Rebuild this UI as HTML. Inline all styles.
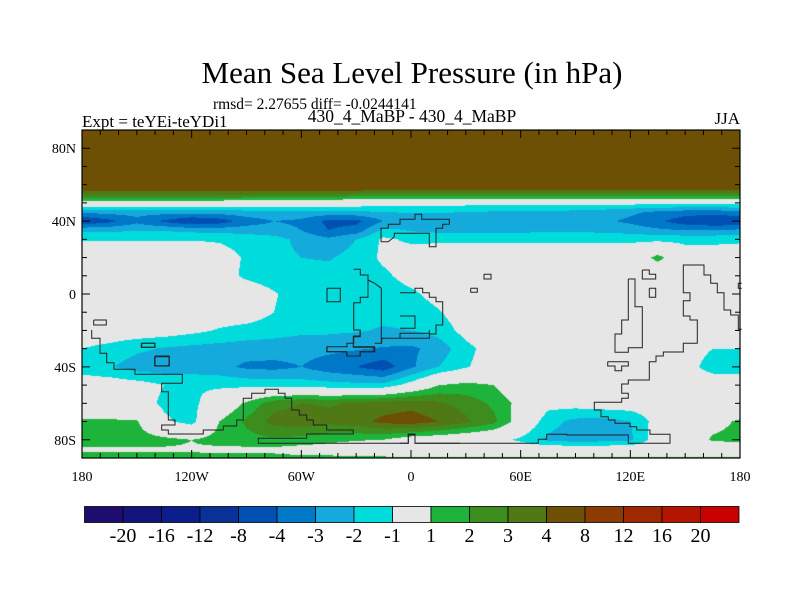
<!DOCTYPE html>
<html><head><meta charset="utf-8">
<style>
html,body{margin:0;padding:0;background:#fff;}
#wrap{position:relative;width:800px;height:600px;overflow:hidden;font-family:"Liberation Serif",serif;color:#000;}
.t{position:absolute;white-space:nowrap;}
</style></head>
<body>
<div id="wrap">
<div class="t" style="left:0;width:824px;text-align:center;top:55px;font-size:31px;">Mean Sea Level Pressure (in hPa)</div>
<div class="t" style="left:213px;top:96px;font-size:15.5px;">rmsd= 2.27655 diff= -0.0244141</div>
<div class="t" style="left:82px;top:112px;font-size:17px;">Expt = teYEi-teYDi1</div>
<div class="t" style="left:0;width:824px;text-align:center;top:106px;font-size:17.5px;">430_4_MaBP - 430_4_MaBP</div>
<div class="t" style="right:60px;top:109px;font-size:17px;">JJA</div>
<canvas id="field" width="658" height="328" style="position:absolute;left:82px;top:130px;"></canvas>
<svg id="ov" width="800" height="600" style="position:absolute;left:0;top:0;"></svg>
</div>
<script>
const lons=[-180,-165,-150,-135,-120,-105,-90,-75,-60,-45,-30,-15,0,15,30,45,60,75,90,105,120,135,150,165,180];
const lats=[90,60,55,50,45,40,35,30,20,10,0,-10,-20,-30,-40,-50,-60,-70,-80,-85,-90];
const r90=[6,6,6,6,6,6,6,6,6,6,6,6,6,6,6,6,6,6,6,6,6,6,6,6,6];
const r60=[6,6,6,6,6,6,6,6,6,6,6,6,6,6,6,6,6,6,6,6,6,6,6,6,6];
const r55=[3.3,3.3,3.3,3.3,3.3,3.3,3.3,3.2,3.1,3.0,2.9,2.8,2.8,2.8,2.8,2.8,2.8,2.8,2.8,2.8,2.8,2.8,2.8,2.8,2.8];
const r50=[0.2,0.2,0.2,0.2,0.2,0.2,0.1,0,0,-0.1,-0.2,-0.4,-0.6,-0.6,-0.6,-0.6,-0.6,-0.6,-0.6,-0.6,-0.6,-0.6,-0.6,-0.6,-0.6];
const r45=[-2.8,-2.6,-2.6,-2.6,-2.6,-2.5,-2.4,-2.3,-2.3,-2.3,-2.2,-2.0,-1.9,-1.9,-2.0,-2.1,-2.1,-2.2,-2.3,-2.5,-2.8,-3.2,-3.5,-3.6,-3.2];
const r40=[-5,-4.3,-3.3,-4.2,-5,-4.6,-3.5,-3,-3.2,-4.3,-4.3,-3,-2.6,-2.7,-2.8,-2.8,-2.7,-2.6,-2.6,-2.8,-3.2,-3.8,-4.6,-5,-5];
const r35=[-2.2,-2.2,-2.1,-2.1,-2.3,-2.4,-2.5,-2.6,-3,-4,-3.6,-1.7,-2.1,-2.3,-2.4,-2.4,-2.3,-2.2,-2.2,-2.3,-2.5,-2.8,-3,-3,-2.8];
const r30=[-1.05,-1.05,-1.05,-1.05,-1.05,-1.1,-1.3,-1.6,-2.3,-2.8,-2.0,-0.8,-1.2,-1.2,-1.2,-1.2,-1.2,-1.2,-1.2,-1.2,-1.2,-1.3,-1.3,-1.3,-1.2];
const r20=[-0.3,-0.3,-0.3,-0.3,-0.3,-0.6,-1.1,-1.7,-2.0,-2.1,-1.6,-0.8,-0.4,-0.3,-0.3,-0.3,-0.3,-0.3,-0.3,-0.3,-0.3,1.4,-0.3,-0.3,-0.3];
const r10=[-0.3,-0.3,-0.3,-0.3,-0.3,-0.5,-1.2,-1.5,-1.6,-1.6,-1.5,-1.2,-0.6,-0.3,-0.3,-0.3,-0.3,-0.3,-0.3,-0.3,-0.3,-0.3,-0.3,-0.3,-0.3];
const r0=[-0.3,-0.3,-0.3,-0.3,-0.3,-0.3,-0.3,-0.9,-1.5,-1.6,-1.6,-1.5,-1.2,-0.6,-0.3,-0.3,-0.3,-0.3,-0.3,-0.3,-0.3,-0.3,-0.3,-0.3,-0.3];
const rm10=[-0.3,-0.3,-0.3,-0.3,-0.3,-0.3,-0.3,-1.0,-1.6,-1.7,-1.7,-1.7,-1.6,-1.1,-0.3,-0.3,-0.3,-0.3,-0.3,-0.3,-0.3,-0.3,-0.3,-0.3,-0.3];
const rm20=[-0.3,-0.3,-0.3,-0.4,-0.7,-1.1,-1.4,-1.6,-1.8,-1.8,-1.9,-2.1,-2.0,-1.6,-0.6,-0.3,-0.3,-0.3,-0.3,-0.3,-0.3,-0.3,-0.3,-0.3,-0.3];
const rm30=[-1.0,-1.3,-1.8,-2.1,-2.3,-2.4,-2.5,-2.5,-2.6,-2.7,-2.9,-3.1,-3.2,-2.6,-1.3,-0.5,-0.3,-0.3,-0.3,-0.3,-0.3,-0.3,-0.5,-1.0,-1.0];
const rm40=[-1.5,-1.9,-2.5,-2.6,-2.6,-2.7,-3.2,-3.3,-3.0,-3.6,-4.0,-4.6,-3.2,-2.0,-1.1,-0.4,-0.3,-0.3,-0.3,-0.3,-0.3,-0.3,-0.6,-1.4,-1.5];
const rm50=[-0.3,-0.3,-0.5,-1.0,-1.1,-1.2,-1.3,-1.4,-1.5,-1.6,-1.7,-1.7,-0.5,1.0,1.3,1.0,-0.2,-0.3,-0.3,-0.3,-0.3,-0.3,-0.3,-0.3,-0.3];
const rm60=[-0.3,-0.3,-0.5,-1.2,-1.3,-0.2,1.2,2.6,3.0,2.9,3.1,3.4,3.6,3.2,2.6,1.8,0.6,-0.6,-0.5,-0.3,-0.3,-0.3,-0.3,-0.3,-0.3];
const rm70=[1.2,1.2,1.1,-0.8,-1.4,1.0,2.2,3.4,3.6,3.3,3.6,4.3,4.6,4.0,3.2,2.3,0.3,-1.6,-2.3,-2.4,-2.0,-0.5,-0.3,0.5,1.2];
const rm80=[1.5,1.5,1.5,1.3,1.0,1.4,1.6,1.8,1.6,1.3,1.1,1.0,0.2,0,-0.3,-0.6,-1.2,-2.2,-2.5,-2.4,-2.2,-0.3,-0.2,1.2,1.4];
const rm85=[0.9,0.9,0.9,0.9,0.9,0.8,0.8,0.8,0.6,0.5,0.3,0,-0.2,-0.2,-0.2,-0.2,-0.2,-0.2,-0.2,-0.2,-0.2,-0.2,-0.2,-0.2,-0.2];
const rm90=[1.2,1.2,1.2,1.2,1.2,1.2,1.2,1.2,1.2,1.2,1.2,1.2,1.2,1.2,1.2,1.2,1.2,1.2,1.2,1.2,1.2,1.2,1.2,1.2,1.2];
const grid=[r90,r60,r55,r50,r45,r40,r35,r30,r20,r10,r0,rm10,rm20,rm30,rm40,rm50,rm60,rm70,rm80,rm85,rm90];
const levels=[-20,-16,-12,-8,-4,-3,-2,-1,1,2,3,4,8,12,16,20];
const levelLabels=["-20","-16","-12","-8","-4","-3","-2","-1","1","2","3","4","8","12","16","20"];
const colors=["#1e0c6e","#14147d","#0c1e8c","#0a3296","#0050b4","#0078c8","#14aadc","#00dcdc","#e6e6e6","#1eb43c","#3c8c1e","#507814","#6e5005","#8c3c00","#a02800","#b41400","#c80000"];

const X0=82,X1=740,Y0=130,Y1=458;
function xOf(lon){return X0+(lon+180)/360*(X1-X0);}
function yOf(lat){return Y0+(90-lat)/180*(Y1-Y0);}
function lonOf(x){return -180+(x-X0)/(X1-X0)*360;}
function latOf(y){return 90-(y-Y0)/(Y1-Y0)*180;}
function colorIdx(v){let i=0;while(i<levels.length&&v>=levels[i])i++;return i;}
function valAt(lon,lat){
  let j=0;while(j<lons.length-2&&lon>lons[j+1])j++;
  let i=0;while(i<lats.length-2&&lat<lats[i+1])i++;
  const fx=(lon-lons[j])/(lons[j+1]-lons[j]);
  const fy=(lat-lats[i])/(lats[i+1]-lats[i]);
  const a=grid[i][j],b=grid[i][j+1],c=grid[i+1][j],d=grid[i+1][j+1];
  return a*(1-fx)*(1-fy)+b*fx*(1-fy)+c*(1-fx)*fy+d*fx*fy;
}
const rgb=colors.map(h=>[parseInt(h.slice(1,3),16),parseInt(h.slice(3,5),16),parseInt(h.slice(5,7),16)]);
const cv=document.getElementById('field');const ctx=cv.getContext('2d');
const W=cv.width,H=cv.height;const img=ctx.createImageData(W,H);
for(let py=0;py<H;py++){const lat=latOf(Y0+py+0.5);
  for(let px=0;px<W;px++){const lon=lonOf(X0+px+0.5);
    const c=rgb[colorIdx(valAt(lon,lat))];const k=(py*W+px)*4;
    img.data[k]=c[0];img.data[k+1]=c[1];img.data[k+2]=c[2];img.data[k+3]=255;}}
ctx.putImageData(img,0,0);

const NS='http://www.w3.org/2000/svg';const ov=document.getElementById('ov');
function mk(tag,attrs,parent){const e=document.createElementNS(NS,tag);for(const k in attrs)e.setAttribute(k,attrs[k]);(parent||ov).appendChild(e);return e;}

// coastline outlines (traced, stepped) — [offsetX, offsetY, points in 3x-zoom units]
const outlines=[
 [60,90,[[963,455],[963,415],[985,415],[985,403],[1020,403],[1020,388],[1065,388],[1065,373],[1085,373],[1085,388],[1168,388],[1168,403],[1148,403],[1148,415],[1128,415],[1128,470],[1108,470],[1108,430],[1003,430],[1003,440],[985,455],[963,455]]],
 [82,180,[[735,325],[775,325],[775,365],[735,365],[735,325]]],
 [82,180,[[35,420],[73,420],[73,435],[35,435],[35,420]]],
 [82,180,[[178,490],[218,490],[218,502],[178,502],[178,490]]],
 [82,180,[[218,530],[262,530],[262,557],[218,557],[218,530]]],
 [82,180,[[815,268],[835,268],[835,285],[858,285],[858,352],[835,352],[835,368],[815,368],[815,450],[835,450],[835,468],[815,468],[815,490],[795,490],[795,500],[735,500],[735,515],[795,515],[795,528],[835,528],[835,515],[878,515],[878,500],[815,500]]],
 [82,180,[[858,300],[878,310],[898,325],[898,490],[878,490]]],
 [400,180,[[0,338],[45,338],[45,325],[68,325],[68,338],[88,338],[88,352],[108,352],[108,365],[128,365],[128,435],[108,435],[108,462],[88,462],[88,475],[0,475]]],
 [400,180,[[0,408],[45,408],[45,445],[0,445]]],
 [400,180,[[252,283],[273,283],[273,297],[252,297],[252,283]]],
 [400,180,[[212,325],[232,325],[232,337],[212,337],[212,325]]],
 [400,180,[[727,270],[748,270],[748,283],[767,283],[767,297],[727,297],[727,270]]],
 [400,180,[[748,325],[767,325],[767,352],[748,352],[748,325]]],
 [400,180,[[685,297],[705,297],[705,380],[727,380],[727,503],[685,503],[685,517],[645,517],[645,462],[665,462],[665,420],[685,420],[685,297]]],
 [400,180,[[623,545],[685,545],[685,558],[665,558],[665,572],[645,572],[645,558],[623,558],[623,545]]],
 [400,180,[[1025,448],[1015,448],[1015,405],[992,405],[992,390],[972,390],[972,338],[952,338],[952,310],[932,310],[932,285],[912,285],[912,255],[850,255],[850,338],[870,338],[870,362],[850,362],[850,408],[870,408],[870,420],[892,420],[892,490],[850,490],[850,516],[790,516],[790,528],[768,528],[768,545],[748,545],[748,600],[685,600],[685,612],[665,612],[665,640],[685,640],[685,655],[665,655],[665,667],[583,667],[583,690],[603,690],[603,710],[625,710],[625,720],[645,720],[645,730],[690,730],[690,740],[710,740],[710,750],[750,750],[750,763],[810,763],[810,790],[685,790],[685,765],[500,765],[500,763],[440,763],[440,778],[415,778],[415,790],[45,790],[45,765],[25,765],[25,790],[0,790]]],
 [400,180,[[1025,310],[1015,310],[1015,325],[1025,325]]],
 [60,330,[[95,0],[95,25],[120,25],[120,70],[140,70],[140,98],[162,98],[162,118],[225,118],[225,133],[367,133],[367,160],[305,160],[305,185],[325,185],[325,270],[345,270],[345,285],[305,285],[305,300],[325,300],[325,312],[430,312],[430,300],[490,300],[490,288],[530,288],[530,270],[550,270],[550,205],[575,205],[575,190],[615,190],[615,178],[655,178],[655,190],[675,190],[675,205],[695,205],[695,240],[718,240],[718,255],[740,255],[740,270],[760,270],[760,285],[800,285],[800,300],[880,300],[880,312],[740,312],[740,325],[595,325],[595,340],[1045,340],[1045,312],[1065,312],[1065,340],[1200,340]]],
 [60,330,[[245,40],[285,40],[285,52],[245,52],[245,40]]],
 [60,330,[[285,78],[327,78],[327,108],[285,108],[285,78]]],
 [60,330,[[800,52],[800,65],[860,65],[860,78],[900,78],[900,65],[942,65],[942,52],[880,52],[880,20],[900,20],[900,0]]],
 [60,330,[[965,40],[965,25],[1020,25],[1020,10],[1108,10],[1108,0]]]
];
outlines.forEach(([ox,oy,pts])=>{
  const p=mk('polyline',{points:pts.map(q=>(ox+q[0]/3).toFixed(1)+','+(oy+q[1]/3).toFixed(1)).join(' '),fill:'none',stroke:'#222','stroke-width':1});
  
  
});

const fr=mk('rect',{x:X0,y:Y0,width:X1-X0,height:Y1-Y0,fill:'none',stroke:'#000','stroke-width':1.2});



for(let lon=-180;lon<=180;lon+=10){const x=xOf(lon);const L=(lon%60===0)?8:5;
  mk('line',{x1:x,y1:Y1,x2:x,y2:Y1-L,stroke:'#000'});mk('line',{x1:x,y1:Y0,x2:x,y2:Y0+L,stroke:'#000'});}
for(let lat=-90;lat<=90;lat+=10){const y=yOf(lat);const L=(lat%40===0)?8:5;
  mk('line',{x1:X0,y1:y,x2:X0+L,y2:y,stroke:'#000'});mk('line',{x1:X1,y1:y,x2:X1-L,y2:y,stroke:'#000'});}
const latTicks=[80,40,0,-40,-80];const latTickLabels=["80N","40N","0","40S","80S"];
latTicks.forEach((lat,i)=>{const t=mk('text',{x:76,y:yOf(lat)+5,'text-anchor':'end','font-size':14,'font-family':'Liberation Serif, serif'});t.textContent=latTickLabels[i];
  
  });
const lonTicks=[-180,-120,-60,0,60,120,180];const lonTickLabels=["180","120W","60W","0","60E","120E","180"];
lonTicks.forEach((lon,i)=>{const t=mk('text',{x:xOf(lon),y:481,'text-anchor':'middle','font-size':14,'font-family':'Liberation Serif, serif'});t.textContent=lonTickLabels[i];
  
  });

const CB0=84.5,CB1=739,CBy=506.5,CBh=16;const bw=(CB1-CB0)/colors.length;
colors.forEach((c,i)=>{const r=mk('rect',{x:CB0+i*bw,y:CBy,width:bw,height:CBh,fill:c,stroke:'#000','stroke-width':0.8});
  
  });
levelLabels.forEach((s,i)=>{const t=mk('text',{x:CB0+(i+1)*bw,y:542,'text-anchor':'middle','font-size':20,'font-family':'Liberation Serif, serif'});t.textContent=s;
  
  });
</script>
</body></html>
